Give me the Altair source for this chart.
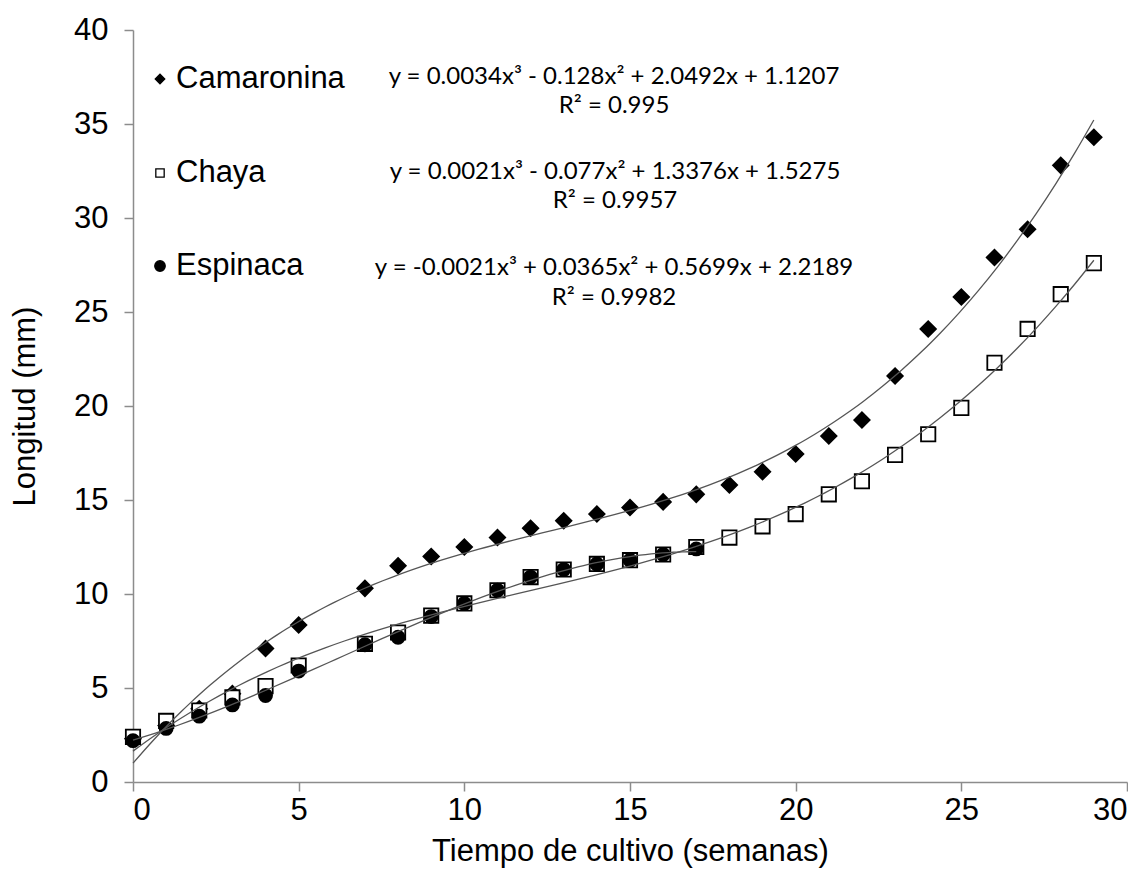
import altair as alt
import pandas as pd

weeks = [0, 1, 2, 3, 4, 5, 7, 8, 9, 10, 11, 12, 13, 14, 15, 16, 17, 18, 19, 20,
         21, 22, 23, 24, 25, 26, 27, 28, 29]
camaronina = [2.3, 3.0, 3.9, 4.7, 7.1, 8.35, 10.3, 11.5, 12.0, 12.5, 13.0, 13.5, 13.9,
              14.25, 14.6, 14.9, 15.3, 15.8, 16.5, 17.45, 18.4, 19.25, 21.6, 24.1,
              25.8, 27.9, 29.4, 32.8, 34.3]
chaya = [2.4, 3.25, 3.8, 4.5, 5.1, 6.2, 7.35, 7.95, 8.85, 9.5, 10.2, 10.9, 11.3, 11.6,
         11.8, 12.1, 12.5, 13.0, 13.6, 14.25, 15.3, 16.0, 17.4, 18.5, 19.9, 22.3,
         24.1, 25.95, 27.6]
weeks_esp = [0, 1, 2, 3, 4, 5, 7, 8, 9, 10, 11, 12, 13, 14, 15, 16, 17]
espinaca = [2.2, 2.85, 3.5, 4.1, 4.6, 5.9, 7.3, 7.7, 8.8, 9.5, 10.2, 10.9, 11.3, 11.6,
            11.8, 12.1, 12.4]

series = ["Camaronina", "Chaya", "Espinaca"]
shapes = ["diamond", "square", "circle"]
fills = ["black", "white", "black"]
eq_labels = ["y = 0.0034x³ - 0.128x² + 2.0492x + 1.1207",
             "y = 0.0021x³ - 0.077x² + 1.3376x + 1.5275",
             "y = -0.0021x³ + 0.0365x² + 0.5699x + 2.2189"]
r2_labels = ["R² = 0.995", "R² = 0.9957", "R² = 0.9982"]

rows = []
for w, v in zip(weeks, camaronina):
    rows.append({"semana": w, "longitud": v, "serie": series[0]})
for w, v in zip(weeks, chaya):
    rows.append({"semana": w, "longitud": v, "serie": series[1]})
for w, v in zip(weeks_esp, espinaca):
    rows.append({"semana": w, "longitud": v, "serie": series[2]})
df = pd.DataFrame(rows)

FONT = "Liberation Sans"
EQFONT = "Lato"

xscale = alt.Scale(domain=[0, 30], nice=False, zero=False)
yscale = alt.Scale(domain=[0, 40], nice=False)

xaxis = alt.Axis(values=list(range(0, 31, 5)), grid=False, title="Tiempo de cultivo (semanas)",
                 tickSize=9, labelPadding=4, titlePadding=11)
yaxis = alt.Axis(values=list(range(0, 41, 5)), grid=False, title="Longitud (mm)",
                 tickSize=9, labelPadding=16, titlePadding=32)

base = alt.Chart(df)

lines = base.transform_regression(
    "semana", "longitud", groupby=["serie"], method="poly", order=3
).mark_line(color="#555555", strokeWidth=1.3, interpolate="monotone").encode(
    x=alt.X("semana:Q", scale=xscale, axis=xaxis),
    y=alt.Y("longitud:Q", scale=yscale, axis=yaxis),
    detail="serie:N",
)

points = base.mark_point(filled=True, stroke="black", strokeWidth=1.8, opacity=1).encode(
    x=alt.X("semana:Q", scale=xscale),
    y=alt.Y("longitud:Q", scale=yscale),
    shape=alt.Shape("serie:N", scale=alt.Scale(domain=series, range=shapes), legend=None),
    fill=alt.Fill("serie:N", scale=alt.Scale(domain=series, range=fills), legend=None),
    size=alt.Size("serie:N", scale=alt.Scale(domain=series, range=[240, 170, 210]),
                  legend=None),
)


def label(txt, x, y, font, size, align):
    return alt.Chart(pd.DataFrame({"t": [txt]})).mark_text(
        font=font, fontSize=size, color="black", align=align, baseline="middle"
    ).encode(text="t:N", x=alt.value(x), y=alt.value(y))


def symbol(shape, fill, x, y, size):
    return alt.Chart(pd.DataFrame({"s": [shape]})).mark_point(
        shape=shape, filled=True, fill=fill, stroke="black", strokeWidth=1.3,
        size=size, opacity=1
    ).encode(x=alt.value(x), y=alt.value(y))


layers = []
leg_y = [49, 143, 236]
leg_sizes = [90, 70, 110]
for name, shp, fc, ly, sz in zip(series, shapes, fills, leg_y, leg_sizes):
    layers.append(symbol(shp, fc, 27, ly, sz))
    layers.append(label(name, 43, ly, FONT, 31, "left"))

eq_pos = [(481, 47, 76), (482, 142, 171), (481, 238, 268)]
for eq, r2, (px, py1, py2) in zip(eq_labels, r2_labels, eq_pos):
    layers.append(label(eq, px, py1, EQFONT, 24, "center"))
    layers.append(label(r2, px, py2, EQFONT, 24, "center"))

chart = alt.layer(points, lines, *layers).properties(
    width=994, height=752,
    padding={"left": 1, "top": 6, "right": 0, "bottom": 5},
).configure_view(stroke=None).configure_axis(
    domainColor="#8c8c8c", tickColor="#8c8c8c", labelColor="black", titleColor="black",
    labelFont=FONT, titleFont=FONT, labelFontSize=31, titleFontSize=31,
    titleFontWeight="normal", domainWidth=1.5, tickWidth=1.5,
)

chart.save("out.html", embed_options={"renderer": "svg", "actions": False})
